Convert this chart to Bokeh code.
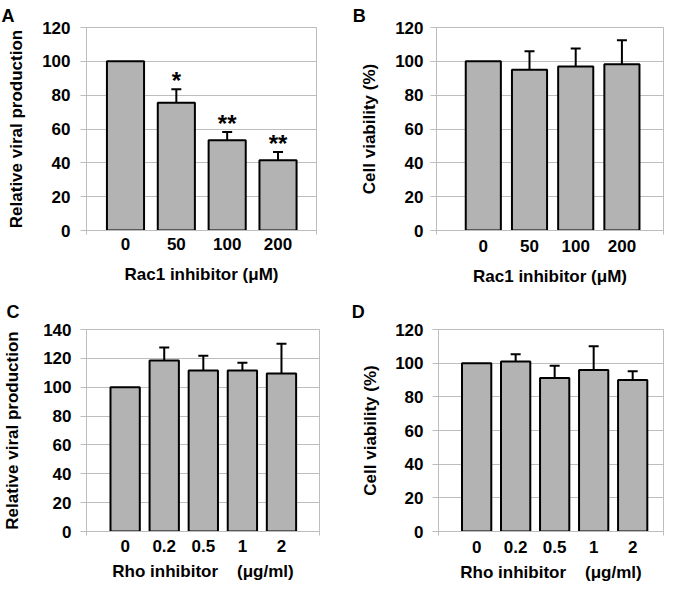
from bokeh.plotting import figure
from bokeh.layouts import column, row
from bokeh.models import (FixedTicker, Range1d, Whisker, TeeHead,
                          ColumnDataSource)
from bokeh.core.properties import value
from bokeh.embed import file_html
from bokeh.resources import INLINE

# ---------------- data ----------------
rac_doses = ["0", "50", "100", "200"]
rac_viral = [100, 75.5, 53.3, 41.6]
rac_viral_err = [0, 8.0, 4.9, 4.8]
rac_viral_sig = ["", "*", "**", "**"]
rac_viab = [100, 95.0, 97.0, 98.3]
rac_viab_err = [0, 10.9, 10.6, 14.2]

rho_doses = ["0", "0.2", "0.5", "1", "2"]
rho_viral = [100, 118.5, 111.5, 111.5, 109.5]
rho_viral_err = [0, 9.1, 10.3, 5.4, 20.6]
rho_viab = [100, 101.0, 91.2, 96.0, 90.0]
rho_viab_err = [0, 4.3, 7.2, 14.0, 5.2]

FONT = "Liberation Sans"
GRID = "#bdbdbd"
BAR = "#b3b3b3"
NB = "\u00a0"
W, H = 332, 292


def panel(letter, cats, vals, errs, ylabel, xlabel, ymax, xr, bar_w,
          origin, frame, letter_left, title_standoff, ystand, ylab_stand,
          xstand, xlab_stand, sig=None):
    ox, oy = origin
    fl, ft, fr, fb = frame
    p = figure(width=W, height=H, output_backend="svg", toolbar_location=None,
               x_range=Range1d(xr[0], xr[1]), y_range=Range1d(0, ymax),
               min_border_left=int(round(fl - ox)),
               min_border_right=int(round(ox + W - fr)),
               min_border_top=int(round(ft - oy)),
               min_border_bottom=int(round(oy + H - fb)))
    p.background_fill_color = "white"
    p.border_fill_color = "white"
    p.outline_line_color = GRID
    p.outline_line_width = 1
    p.xgrid.visible = False
    p.ygrid.grid_line_color = GRID
    p.ygrid.grid_line_width = 1

    # panel letter as the figure title
    p.title.text = letter
    p.title.align = "left"
    p.title.offset = letter_left - fl
    p.title.standoff = title_standoff
    p.title.vertical_align = "top"
    p.title.text_font = FONT
    p.title.text_font_size = "18px"
    p.title.text_font_style = "bold"
    p.title.text_color = "black"

    n = len(cats)
    xs = list(range(n))
    src = ColumnDataSource(dict(x=xs, top=vals))
    p.vbar(x="x", top="top", bottom=0, width=bar_w, source=src,
           fill_color=BAR, line_color="black", line_width=2)

    ex = [x for x, e in zip(xs, errs) if e > 0]
    eu = [v + e for v, e in zip(vals, errs) if e > 0]
    el = [v - e for v, e in zip(vals, errs) if e > 0]
    esrc = ColumnDataSource(dict(x=ex, upper=eu, lower=el))
    w = Whisker(source=esrc, base="x", upper="upper", lower="lower",
                line_color="black", line_width=2,
                upper_head=TeeHead(size=10, line_color="black", line_width=2),
                lower_head=TeeHead(size=10, line_color="black", line_width=2))
    p.add_layout(w)

    if sig is not None:
        sx = [x for x, s in zip(xs, sig) if s]
        sy = [v + e + 5.0 for v, e, s in zip(vals, errs, sig) if s]
        st = [s for s in sig if s]
        p.text(x=sx, y=sy, text=st, text_font=value(FONT),
               text_font_size="24px", text_font_style="bold",
               text_align="center", text_baseline="alphabetic",
               text_color="black")

    # y axis
    ya = p.yaxis[0]
    ya.ticker = FixedTicker(ticks=list(range(0, ymax + 1, 20)))
    ya.axis_line_color = GRID
    ya.major_tick_line_color = GRID
    ya.major_tick_out = 6
    ya.major_tick_in = 0
    ya.minor_tick_out = 0
    ya.minor_tick_in = 0
    ya.major_label_text_font = FONT
    ya.major_label_text_font_size = "17px"
    ya.major_label_text_font_style = "bold"
    ya.major_label_text_color = "black"
    ya.major_label_standoff = ystand
    ya.axis_label = ylabel
    ya.axis_label_text_font = FONT
    ya.axis_label_text_font_size = "17px"
    ya.axis_label_text_font_style = "bold"
    ya.axis_label_text_color = "black"
    ya.axis_label_standoff = ylab_stand

    # x axis
    xa = p.xaxis[0]
    xa.ticker = FixedTicker(ticks=xs, minor_ticks=[xr[0] + 1e-6, xr[1] - 1e-6])
    xa.major_label_overrides = {i: c for i, c in enumerate(cats)}
    xa.axis_line_color = GRID
    xa.major_tick_out = 0
    xa.major_tick_in = 0
    xa.minor_tick_out = 4
    xa.minor_tick_in = 0
    xa.minor_tick_line_color = GRID
    xa.major_label_text_font = FONT
    xa.major_label_text_font_size = "17px"
    xa.major_label_text_font_style = "bold"
    xa.major_label_text_color = "black"
    xa.major_label_standoff = xstand
    xa.axis_label = xlabel
    xa.axis_label_text_font = FONT
    xa.axis_label_text_font_size = "17px"
    xa.axis_label_text_font_style = "bold"
    xa.axis_label_text_color = "black"
    xa.axis_label_standoff = xlab_stand
    return p


pA = panel("A", rac_doses, rac_viral, rac_viral_err,
           "Relative viral production", "Rac1 inhibitor (\u03bcM)", 120,
           (-0.767, 3.757), 0.73, (0, 0), (86, 27, 316, 229.7), 1, 0,
           10, 13, 3, 12, sig=rac_viral_sig)
pB = panel("B", rac_doses, rac_viab, rac_viab_err,
           "Cell viability (%)", "Rac1 inhibitor (\u03bcM)", 120,
           (-1.013, 3.90), 0.76, (W, 0), (435.7, 27.3, 663, 230.7), 352, 0,
           7, 13, 5, 12)
pC = panel("C", rho_doses, rho_viral, rho_viral_err,
           "Relative viral production",
           "Rho inhibitor" + NB * 4 + "(\u03bcg/ml)", 140,
           (-0.989, 4.973), 0.75, (0, H), (85, 329, 319, 533.5), 5, 12,
           9, 18, 4, 7)
pD = panel("D", rho_doses, rho_viab, rho_viab_err,
           "Cell viability (%)",
           "Rho inhibitor" + NB * 4 + "(\u03bcg/ml)", 120,
           (-0.978, 4.79), 0.75, (W, H), (437.7, 329, 663, 532), 351, 12,
           9, 12, 5, 7)

layout = column(row(pA, pB), row(pC, pD))
open("out.html", "w").write(file_html(layout, INLINE))
